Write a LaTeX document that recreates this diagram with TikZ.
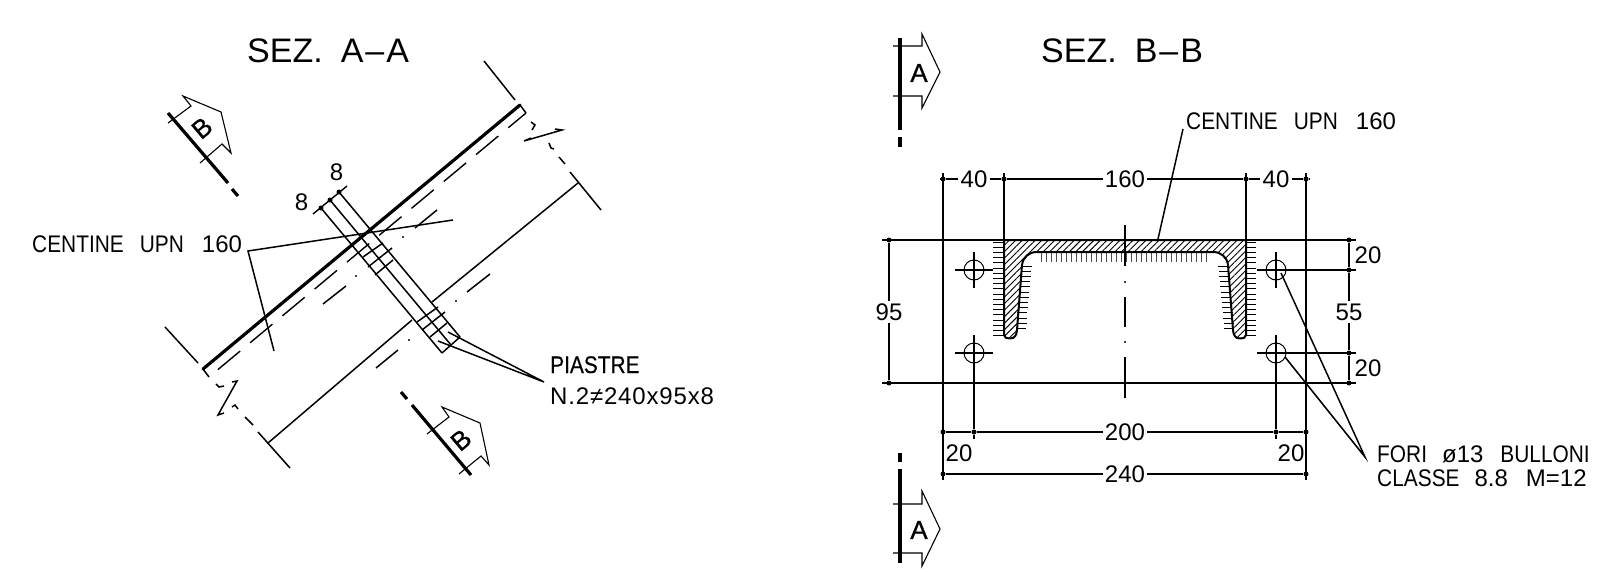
\documentclass[tikz,border=0pt]{standalone}
\usepackage{fontspec}
\setmainfont{Liberation Sans}
\newfontfamily\narrowb{Liberation Sans}[FakeStretch=0.87]
\newfontfamily\narrowc{Liberation Sans}[FakeStretch=0.87,FakeBold=0.4]
\newfontfamily\cutfont{Liberation Sans}[FakeBold=0.8]
\usetikzlibrary{patterns.meta}
\newcommand{\cadtext}{\fontsize{24}{29}\selectfont}
\newcommand{\cadtitle}{\fontsize{34}{34}\selectfont}
\tikzstyle{line} = [draw, line width=1.5pt]
\tikzstyle{thickline} = [draw, line width=3.2pt]
\tikzstyle{dashline} = [draw, line width=1.4pt, dash pattern=on 29pt off 13pt, dash phase=6pt]
\tikzstyle{arrowline} = [draw, line width=1.1pt, line join=miter]
\tikzstyle{dimline} = [draw, line width=1.4pt]
\tikzstyle{dimdot} = [circle, fill=black, inner sep=0pt, minimum size=5pt]
\tikzstyle{caption} = [inner sep=0pt, anchor=base west, font=\cadtext]
\tikzstyle{dimvalue} = [inner sep=2pt, font=\cadtext]
\tikzstyle{cutletter} = [inner sep=0pt, font=\fontsize{26}{26}\selectfont\cutfont]
\tikzstyle{weld} = [draw, line width=.9pt]
\begin{document}
\begin{tikzpicture}[x=1pt, y=-1pt]
    \useasboundingbox (0,0) rectangle (1618,573);

    % Place titles and labels
    \node [caption, font=\cadtitle] (titlea) at (247,62) {SEZ.\hspace{18pt}A\hspace{2pt}\textendash\hspace{2pt}A};
    \node [caption, font=\cadtitle] (titleb) at (1041,62) {SEZ.\hspace{18pt}B\hspace{2pt}\textendash\hspace{2pt}B};
    \node [caption] (centinea) at (32,252) {{\narrowb CENTINE\hspace{16pt}UPN}\hspace{18pt}160};
    \node [caption] (centineb) at (1186,129) {{\narrowb CENTINE\hspace{16pt}UPN}\hspace{18pt}160};
    \node [caption] (piastre) at (550,373) {\narrowc PIASTRE};
    \node [caption] (piastrenum) at (550,404) {\addfontfeature{LetterSpace=3.5}N.2≠240x95x8};
    \node [caption] (fori) at (1377,462) {{\narrowb FORI}\hspace{15pt}ø13\hspace{17pt}{\narrowb BULLONI}};
    \node [caption] (classe) at (1377,486) {{\narrowb CLASSE}\hspace{15pt}8.8\hspace{18pt}M=12};
    \node [dimvalue] (eighta) at (336.5,172) {8};
    \node [dimvalue] (eightb) at (301.5,202) {8};

    % Section A-A, beam
    \coordinate (beamtop) at (520,105);
    \coordinate (beambot) at (203,369);
    \coordinate (captop) at (526,113);
    \coordinate (capbot) at (209,377);
    \path [thickline, line cap=round] (beamtop) -- (beambot);
    \path [line] (beamtop) -- (captop);
    \path [line] (beambot) -- (capbot);
    \path [dashline] (captop) -- (capbot);

    \coordinate (lowtop) at (578,183);
    \coordinate (lowup) at (432,302);
    \coordinate (lowdown) at (412,320);
    \coordinate (lowbot) at (268,443);
    \path [line] (lowtop) -- (lowup);
    \path [line] (lowdown) -- (lowbot);

    % end ticks
    \path [line] (484,61) -- (515,100);
    \path [line] (570,172) -- (601,210);
    \path [line] (165,327) -- (198,363);
    \path [line] (258,432) -- (290,468);

    % breaks
    \path [line] (531,122) -- (535,125) -- (532,130);
    \path [line] (555,129) -- (562,130) -- (524,141) -- (531,138);
    \path [line] (549,143) -- (551,148) -- (554,149);
    \path [line] (559,157) -- (565,164);
    \path [line] (216,384) -- (219,387) -- (224,386);
    \path [line] (232,382) -- (237,381) -- (218,415) -- (224,413);
    \path [line] (232,407) -- (235,405) -- (238,409);
    \path [line] (245,417) -- (253,425);

    % axis pieces
    \path [line] (437,210) -- (415,228);
    \path [line] (346,286) -- (323,304);
    \path [line] (490,274) -- (467,292);
    \path [line] (398,350) -- (376,368);
    \foreach \px/\py in {403/237, 356/276, 456/301, 409/340}
        \fill (\px,\py) circle (1.1pt);

    % plates
    \coordinate (plateatop) at (321,208);
    \coordinate (platebtop) at (330,200);
    \coordinate (platectop) at (339,192);
    \coordinate (plateabot) at (442,353);
    \coordinate (platebbot) at (451,345);
    \coordinate (platecbot) at (460,337);
    \path [line] (plateatop) -- (plateabot);
    \path [line] (platebtop) -- (platebbot);
    \path [line] (platectop) -- (platecbot);
    \path [line] (plateabot) -- (platecbot);
    \path [line] (363,257) -- (383,243);
    \path [line] (368,267) -- (392,248);
    \path [line] (375,275) -- (393,260);
    \path [line] (417,322) -- (438,307);
    \path [line] (422,330) -- (445,312);
    \path [line] (430,337) -- (447,323);

    % plate thickness
    \node [dimdot] (thicka) at (321,208) {};
    \node [dimdot] (thickb) at (330,200) {};
    \node [dimdot] (thickc) at (339,192) {};
    \coordinate (thickstart) at (313,214);
    \coordinate (thickend) at (347,186);
    \path [dimline] (thickstart) -- (thickend);

    % leaders, section A-A
    \coordinate (centinecorner) at (248,251);
    \coordinate (centineup) at (453,220);
    \coordinate (centinedown) at (274,351);
    \path [line] (centineup) -- (centinecorner) -- (centinedown);
    \coordinate (piastretip) at (544,382);
    \coordinate (piastrea) at (448,332);
    \coordinate (piastreb) at (438,341);
    \path [line] (piastrea) -- (piastretip) -- (piastreb);

    % cut marks B
    \path [thickline] (168,113) -- (228,183);
    \path [thickline] (232,189) -- (238,196);
    \path [arrowline] (168,123) -- (191,106) -- (183,96) -- (221,112) -- (231,153) -- (222,144) -- (200,163);
    \node [cutletter, rotate=40] (markba) at (202,128) {B};
    \path [thickline] (412,405) -- (471,475);
    \path [thickline] (401,392) -- (407,399);
    \path [arrowline] (427,434) -- (449,417) -- (442,407) -- (480,423) -- (489,465) -- (481,456) -- (459,474);
    \node [cutletter, rotate=40] (markbb) at (461,440) {B};

    % cut marks A
    \path [thickline] (900,38) -- (900,130);
    \path [thickline] (900,137) -- (900,147);
    \path [arrowline] (893,46) -- (922,46) -- (922,34) -- (940,72) -- (922,108) -- (922,96) -- (893,96);
    \node [cutletter] (markaa) at (919,73) {A};
    \path [thickline] (900,469) -- (900,563);
    \path [thickline] (900,453) -- (900,462);
    \path [arrowline] (893,504) -- (922,504) -- (922,491) -- (940,529) -- (922,566) -- (922,553) -- (893,553);
    \node [cutletter] (markab) at (919,530) {A};

    % Section B-B, channel
    \path [draw, line width=2pt, line join=round, pattern={Lines[angle=45,distance=4.6pt,line width=.9pt]}]
        (1004,240) -- (1246,240) -- (1246,335) .. controls (1246,338) and (1243,338.5) .. (1240,338.5)
        .. controls (1235,338.5) and (1233.5,335) .. (1233,330) -- (1228,265)
        .. controls (1227,257) and (1221,252) .. (1213,252) -- (1037,252)
        .. controls (1029,252) and (1023,257) .. (1022,265) -- (1017,330)
        .. controls (1016.5,335) and (1015,338.5) .. (1010,338.5)
        .. controls (1007,338.5) and (1004,338) .. (1004,335) -- cycle;
    \foreach \py in {242,247.2,...,337} {
        \path [weld] (993,\py) -- (1004,\py);
        \path [weld] (1246,\py) -- (1256,\py);
    }
    \foreach \py [evaluate=\py as \px using 1022-(\py-262)*0.09] in {266,271.2,...,332} {
        \path [weld] (\px,\py) -- (\px+10,\py);
        \path [weld] (2250-\px,\py) -- (2240-\px,\py);
    }
    \foreach \px in {1041,1046,...,1209}
        \path [weld, draw=black!70] (\px,252.5) -- (\px,261.5);

    % holes
    \foreach \px/\py/\hname in {974/270/holea, 974/353/holeb, 1276/270/holec, 1276/353/holed} {
        \node [circle, draw, line width=1pt, minimum size=20pt, inner sep=0pt] (\hname) at (\px,\py) {};
        \path [line, line width=1.2pt] (\px,\py-18) -- (\px,\py+18);
    }
    \path [line, line width=1.2pt] (955,270) -- (993,270);
    \path [line, line width=1.2pt] (955,353) -- (993,353);

    % axis
    \path [line, line width=1.2pt] (1125,225) -- (1125,266);
    \path [line, line width=1.2pt] (1125,297) -- (1125,327);
    \path [line, line width=1.2pt] (1125,357) -- (1125,398);
    \fill (1125,282) circle (1.1pt);
    \fill (1125,342) circle (1.1pt);

    % Dimension points
    \node [dimdot] (topa) at (943,179) {};
    \node [dimdot] (topb) at (1004,179) {};
    \node [dimdot] (topc) at (1246,179) {};
    \node [dimdot] (topd) at (1306,179) {};
    \node [dimdot] (lefta) at (889,240) {};
    \node [dimdot] (leftb) at (889,383) {};
    \node [dimdot] (righta) at (1349,240) {};
    \node [dimdot] (rightb) at (1349,270) {};
    \node [dimdot] (rightc) at (1349,353) {};
    \node [dimdot] (rightd) at (1349,383) {};
    \node [dimdot] (lowa) at (943,432) {};
    \node [dimdot] (lowb) at (974,432) {};
    \node [dimdot] (lowc) at (1276,432) {};
    \node [dimdot] (lowd) at (1306,432) {};
    \node [dimdot] (basea) at (943,474) {};
    \node [dimdot] (baseb) at (1306,474) {};

    % Dimension values
    \node [dimvalue] (forty) at (974,179) {40};
    \node [dimvalue] (hundredsixty) at (1125,179) {160};
    \node [dimvalue] (fortyb) at (1276,179) {40};
    \node [dimvalue] (ninetyfive) at (889,312) {95};
    \node [dimvalue] (fiftyfive) at (1349,312) {55};
    \node [dimvalue] (twoh) at (1125,432) {200};
    \node [dimvalue] (twofourty) at (1125,474) {240};
    \node [dimvalue] (twentya) at (1368,255) {20};
    \node [dimvalue] (twentyb) at (1368,368) {20};
    \node [dimvalue] (twentyc) at (959,453) {20};
    \node [dimvalue] (twentyd) at (1291,453) {20};

    % Draw dimension lines
    \path [dimline] (topa) -- (forty) -- (topb);
    \path [dimline] (topb) -- (hundredsixty) -- (topc);
    \path [dimline] (topc) -- (fortyb) -- (topd);
    \path [dimline] (lefta) -- (ninetyfive) -- (leftb);
    \path [dimline] (righta) -- (rightb);
    \path [dimline] (rightb) -- (fiftyfive) -- (rightc);
    \path [dimline] (rightc) -- (rightd);
    \path [dimline] (lowa) -- (lowb);
    \path [dimline] (lowb) -- (twoh) -- (lowc);
    \path [dimline] (lowc) -- (lowd);
    \path [dimline] (basea) -- (twofourty) -- (baseb);

    % Draw extension lines
    \path [line] (943,173) -- (943,480);
    \path [line] (1306,173) -- (1306,480);
    \path [line, line width=2pt] (1004,173) -- (1004,240);
    \path [line, line width=2pt] (1246,173) -- (1246,240);
    \path [line] (882,240) -- (1356,240);
    \path [line] (882,383) -- (1356,383);
    \path [line] (1257,270) -- (1356,270);
    \path [line] (1257,353) -- (1356,353);
    \path [line] (holeb.south) -- (lowb);
    \path [line] (holed.south) -- (lowc);
    \path [line] (940,179) -- (topa);
    \path [line] (topd) -- (1309,179);
    \path [line] (lowb) -- (974,439);
    \path [line] (lowc) -- (1276,439);

    % leaders, section B-B
    \coordinate (topleader) at (1183,129);
    \coordinate (topleaderend) at (1158,239);
    \path [line] (topleader) -- (topleaderend);
    \coordinate (foritip) at (1365,457);
    \coordinate (forihole) at (1281,273);
    \coordinate (foriholeb) at (1285,357);
    \path [line] (forihole) -- (foritip) -- (foriholeb);
\end{tikzpicture}
\end{document}
